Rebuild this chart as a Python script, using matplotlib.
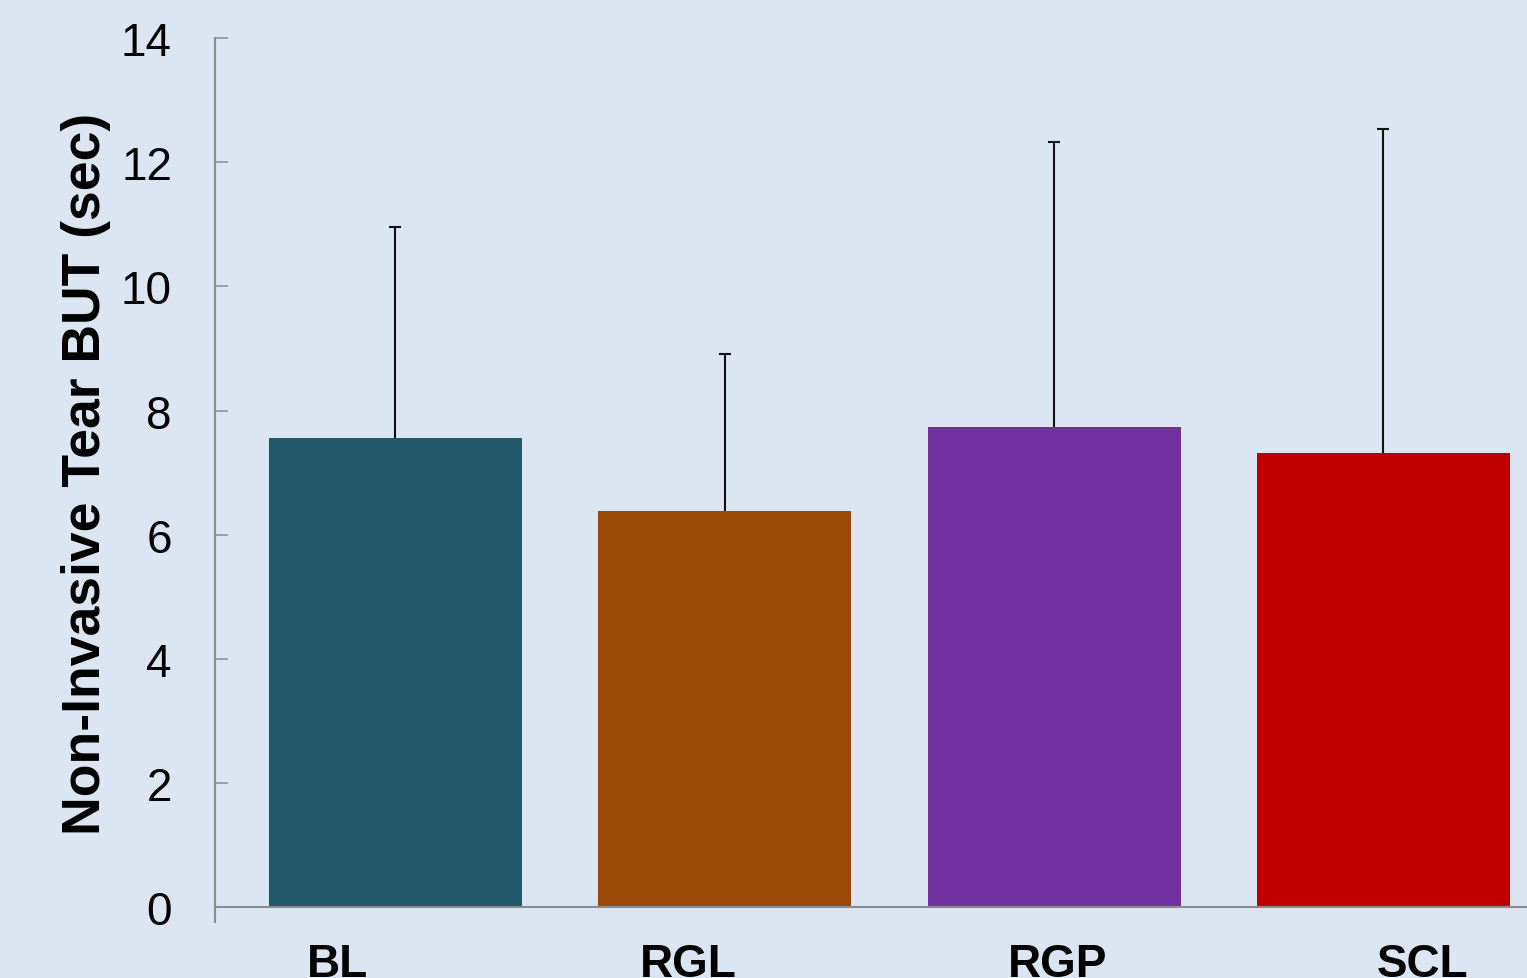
import matplotlib
matplotlib.use("Agg")
import matplotlib.pyplot as plt
import numpy as np

# ---- data ----
categories = ["BL", "RGL", "RGP", "SCL"]
means = [7.56, 6.39, 7.73, 7.31]
upper_sd = [3.40, 2.52, 4.59, 5.22]
bar_colors = ["#215968", "#984807", "#7030A0", "#C00000"]
y_ticks = [0, 2, 4, 6, 8, 10, 12, 14]
y_label = "Non-Invasive Tear BUT (sec)"

# layout-only offsets for category label placement (as in reference)
label_offsets = [-0.175, -0.11, 0.01, 0.12]

BG = "#DCE6F2"
AXC = "#8C8C8C"

plt.rcParams["font.family"] = ["Liberation Sans", "DejaVu Sans"]

fig = plt.figure(figsize=(15.27, 9.79), dpi=100, facecolor=BG)
ax = fig.add_axes([0.1408, 0.0722, 0.8592, 0.8880])
ax.set_facecolor(BG)

x = np.arange(len(categories))
ax.bar(x, means, width=0.768, color=bar_colors, zorder=2)
_, caps, _ = ax.errorbar(x, means, yerr=[np.zeros(len(means)), upper_sd], fmt="none",
                         ecolor="#111111", elinewidth=1.5, capsize=4.3, capthick=1.5,
                         zorder=3)
# keep only the upper caps
if len(caps) == 2:
    caps[0].set_visible(False)

ax.set_xlim(-0.548, 3.436)
ax.set_ylim(0, 14)
ax.set_yticks(y_ticks)
ax.set_yticklabels([str(t) for t in y_ticks], fontsize=33)
ax.tick_params(axis="y", direction="in", length=9.5, width=1.1, color=AXC, pad=31)

ax.set_xticks(x + np.array(label_offsets))
ax.set_xticklabels(categories, fontsize=33, fontweight="bold")
ax.tick_params(axis="x", length=0, pad=25)

for s in ["top", "right"]:
    ax.spines[s].set_visible(False)
ax.spines["left"].set_color(AXC)
ax.spines["bottom"].set_color(AXC)
ax.spines["left"].set_linewidth(1.5)
ax.spines["bottom"].set_linewidth(1.5)
ax.spines["left"].set_bounds(-0.23, 14)

ax.set_ylabel(y_label, fontsize=38.5, fontweight="bold")
ax.yaxis.set_label_coords(-0.079, 0.5)

fig.savefig("out.png", dpi=100, facecolor=BG)
